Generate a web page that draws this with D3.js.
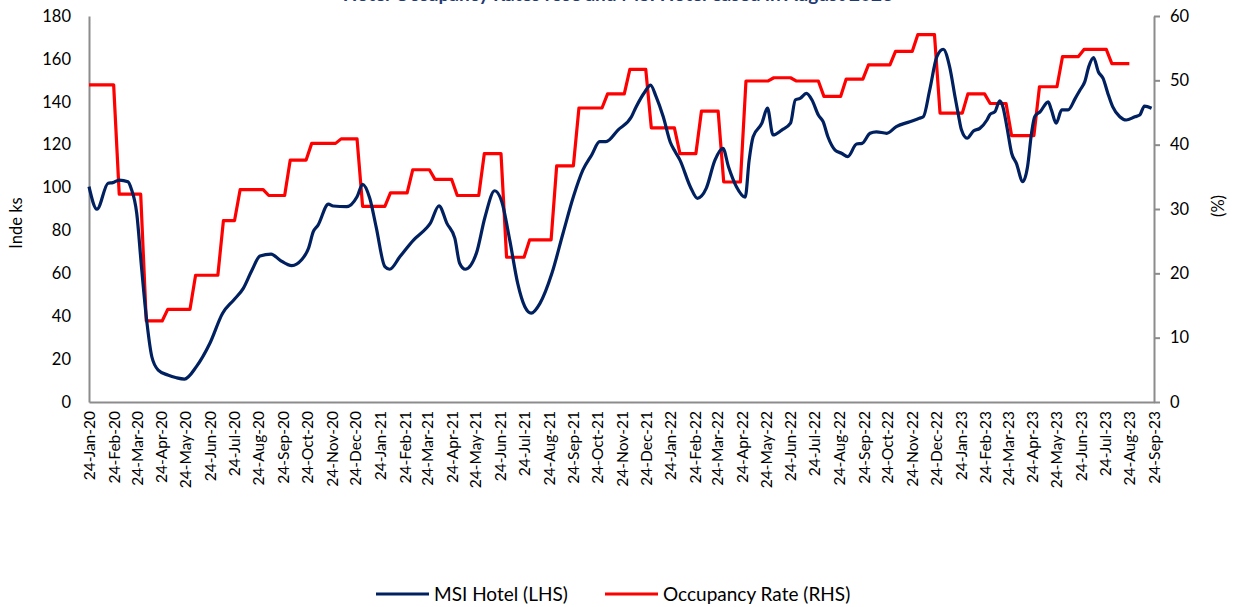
<!DOCTYPE html>
<html>
<head>
<meta charset="utf-8">
<script src="https://cdn.jsdelivr.net/npm/d3@7"></script>
<style>
  body { margin: 0; background: #fff; }
  svg { font-family: Lato, "Open Sans", sans-serif; }
</style>
</head>
<body>
<div class="canvas"></div>
<script>
// MSI Hotel index (LHS)
const hotelDates = ['2020-01-24','2020-02-03','2020-02-17','2020-02-23','2020-03-02','2020-03-13','2020-03-17','2020-03-24','2020-03-30','2020-04-05','2020-04-12','2020-04-20','2020-05-02','2020-05-13','2020-05-23','2020-06-07','2020-06-24','2020-07-10','2020-07-24','2020-08-05','2020-08-16','2020-08-26','2020-09-09','2020-09-20','2020-10-05','2020-10-17','2020-10-26','2020-11-01','2020-11-07','2020-11-20','2020-11-26','2020-12-13','2020-12-26','2021-01-02','2021-01-11','2021-01-19','2021-01-30','2021-02-05','2021-02-18','2021-03-07','2021-03-23','2021-03-28','2021-04-08','2021-04-18','2021-04-28','2021-05-04','2021-05-11','2021-05-25','2021-06-05','2021-06-17','2021-06-26','2021-07-06','2021-07-16','2021-07-25','2021-08-02','2021-08-13','2021-08-28','2021-09-11','2021-09-24','2021-10-06','2021-10-17','2021-10-27','2021-11-04','2021-11-19','2021-12-06','2021-12-12','2021-12-23','2021-12-30','2022-01-06','2022-01-15','2022-01-24','2022-01-30','2022-02-05','2022-02-18','2022-02-27','2022-03-10','2022-03-21','2022-03-31','2022-04-07','2022-04-17','2022-04-28','2022-05-03','2022-05-08','2022-05-19','2022-05-26','2022-06-02','2022-06-13','2022-06-24','2022-06-30','2022-07-06','2022-07-14','2022-07-21','2022-07-29','2022-08-04','2022-08-10','2022-08-19','2022-08-27','2022-09-04','2022-09-15','2022-09-22','2022-10-02','2022-10-10','2022-10-23','2022-11-04','2022-11-21','2022-12-03','2022-12-08','2022-12-16','2022-12-25','2023-01-02','2023-01-10','2023-01-17','2023-01-21','2023-01-25','2023-02-01','2023-02-09','2023-02-17','2023-02-26','2023-03-02','2023-03-08','2023-03-14','2023-03-18','2023-03-23','2023-03-29','2023-04-04','2023-04-12','2023-04-18','2023-04-23','2023-04-27','2023-05-04','2023-05-14','2023-05-18','2023-05-24','2023-05-31','2023-06-08','2023-06-17','2023-06-23','2023-06-29','2023-07-04','2023-07-10','2023-07-16','2023-07-22','2023-07-28','2023-08-03','2023-08-12','2023-08-20','2023-08-31','2023-09-06','2023-09-12','2023-09-21'];
const hotelIndex = [100.4,89.9,102,102.3,103.5,102.7,99.6,88,63,39.8,21.1,14.9,12.6,11.3,10.7,16.5,27.4,41.4,47.6,53,61.6,68.1,69,66.2,63.6,66.2,71.7,79.4,82.5,92.3,91.4,91.1,95.7,101.5,95,81.7,63.1,61.9,67.8,75.5,81,83.3,91.5,83.3,76.3,64.7,61.9,69.3,86.4,98.5,93.4,75.5,55.3,44.4,41.4,46,60,78.7,95.7,108.2,115.2,121.4,121.4,126.8,133,137.7,144.7,147.8,142.4,133,121,116.7,112.8,100.4,95,99.6,112.8,118.3,109.7,100.4,95.5,112.8,123.7,130,137,124.5,126.8,130,140.8,141.6,143.9,140.8,133.8,130.7,123.7,117.5,116,114.4,120.3,120.6,125.3,126,125.3,128.4,130.7,132.3,133,145.5,161,164.5,156.4,142,134,126.8,123,126.4,127.6,131.5,134.2,135.4,140.4,137.7,128.4,116,111.3,102.7,109.7,125.3,133,135.4,140,136.2,130,136.2,136.2,141.6,145.5,149.4,156.4,160.6,154,150.9,143.9,137.7,133,131.5,133,133.8,138,137];

// Occupancy rate (RHS, %): monthly levels and the week each level starts
const occStart = ['2020-01-24','2020-03-02','2020-04-05','2020-05-02','2020-06-06','2020-07-11','2020-08-01','2020-09-06','2020-10-03','2020-10-30','2020-12-06','2021-01-02','2021-02-06','2021-03-06','2021-04-03','2021-05-01','2021-06-04','2021-07-02','2021-07-31','2021-09-03','2021-10-01','2021-11-06','2021-12-04','2021-12-31','2022-02-05','2022-03-04','2022-04-01','2022-04-29','2022-06-03','2022-07-01','2022-08-05','2022-09-02','2022-09-30','2022-11-03','2022-12-01','2022-12-29','2023-02-02','2023-03-02','2023-03-29','2023-05-03','2023-06-01','2023-06-28','2023-08-02'];
const occRate = [49.3,32.3,12.6,14.4,19.7,28.2,33.0,32.1,37.6,40.2,40.9,30.4,32.5,36.1,34.6,32.1,38.6,22.5,25.2,36.7,45.7,47.9,51.7,42.6,38.6,45.2,34.2,49.9,50.4,49.9,47.5,50.2,52.4,54.5,57.1,44.9,47.9,46.4,41.4,49.0,53.7,54.8,52.6];
const occEnd = '2023-08-24';

// axis ticks
const leftTicks = [0, 20, 40, 60, 80, 100, 120, 140, 160, 180];
const rightTicks = [0, 10, 20, 30, 40, 50, 60];
const seriesNames = ['MSI Hotel (LHS)', 'Occupancy Rate (RHS)'];
const titleText = 'Hotel Occupancy Rates rose and MSI Hotel eased in August 2023';

const width = 1237, height = 607;
const margin = {top: 16, right: 83, bottom: 205, left: 89};
const graphWidth = width - margin.left - margin.right;
const graphHeight = height - margin.top - margin.bottom;

const parse = d3.timeParse('%Y-%m-%d');
const DAY = 864e5;

const svg = d3.select('.canvas')
  .append('svg')
  .attr('width', width)
  .attr('height', height);

// title, cut off at the top edge as in the source
svg.append('text')
  .attr('x', 618)
  .attr('y', 1)
  .attr('text-anchor', 'middle')
  .attr('font-size', '19px')
  .attr('font-weight', 'bold')
  .attr('fill', '#1F3A73')
  .text(titleText);

const graph = svg.append('g')
  .attr('transform', `translate(${margin.left},${margin.top})`);

const x = d3.scaleTime()
  .domain([parse('2020-01-24'), parse('2023-09-24')])
  .range([0, graphWidth]);
const yL = d3.scaleLinear().domain([0, 180]).range([graphHeight, 0]);
const yR = d3.scaleLinear().domain([0, 60]).range([graphHeight, 0]);

// monthly ticks on the 24th
const monthTicks = d3.range(0, 45).map(i => new Date(2020, i, 24));

const axisColor = '#8c8c8c';

// x axis
const xAxisGroup = graph.append('g')
  .attr('transform', `translate(0, ${graphHeight})`)
  .call(d3.axisBottom(x).tickValues(monthTicks).tickSize(0).tickFormat(d3.timeFormat('%d-%b-%y')));
xAxisGroup.select('.domain').attr('stroke', axisColor).attr('stroke-width', 2);
xAxisGroup.selectAll('text')
  .attr('transform', 'rotate(-90)')
  .attr('text-anchor', 'end')
  .attr('x', -9)
  .attr('y', 0)
  .attr('dy', '0.35em')
  .attr('font-size', '15.5px')
  .attr('font-family', 'Lato, sans-serif')
  .attr('fill', '#000');

// left axis
const yAxisGroup = graph.append('g')
  .call(d3.axisLeft(yL).tickValues(leftTicks).tickSize(0).tickPadding(18));
yAxisGroup.select('.domain').attr('stroke', axisColor).attr('stroke-width', 2);
yAxisGroup.selectAll('text')
  .attr('font-size', '16.5px')
  .attr('font-family', 'Lato, sans-serif')
  .attr('fill', '#000');

// right axis
const yAxisRight = graph.append('g')
  .attr('transform', `translate(${graphWidth},0)`)
  .call(d3.axisRight(yR).tickValues(rightTicks).tickSize(6).tickSizeOuter(0).tickPadding(10));
yAxisRight.select('.domain').attr('stroke', axisColor).attr('stroke-width', 2);
yAxisRight.selectAll('line').attr('stroke', axisColor).attr('stroke-width', 2);
yAxisRight.selectAll('text')
  .attr('font-size', '16.5px')
  .attr('font-family', 'Lato, sans-serif')
  .attr('fill', '#000');

// axis titles
svg.append('text')
  .attr('transform', `translate(22, ${margin.top + graphHeight / 2 + 14}) rotate(-90)`)
  .attr('text-anchor', 'middle')
  .attr('font-size', '16.5px')
  .text('Inde ks');
svg.append('text')
  .attr('transform', `translate(1224, ${margin.top + graphHeight / 2 - 3}) rotate(-90)`)
  .attr('text-anchor', 'middle')
  .attr('font-size', '16.5px')
  .text('(%)');

// occupancy step line: each level held until a week before the next one starts
const occData = [];
occRate.forEach((v, i) => {
  const start = parse(occStart[i]);
  const end = i < occRate.length - 1 ? new Date(+parse(occStart[i + 1]) - 7 * DAY) : parse(occEnd);
  occData.push({date: start, value: v});
  occData.push({date: end, value: v});
});

const hotelData = hotelDates.map((d, i) => ({date: parse(d), value: hotelIndex[i]}));

graph.append('path')
  .datum(occData)
  .attr('fill', 'none')
  .attr('stroke', '#FF0000')
  .attr('stroke-width', 3.2)
  .attr('stroke-linejoin', 'round')
  .attr('d', d3.line().x(d => x(d.date)).y(d => yR(d.value)));

graph.append('path')
  .datum(hotelData)
  .attr('fill', 'none')
  .attr('stroke', '#002060')
  .attr('stroke-width', 3.2)
  .attr('stroke-linejoin', 'round')
  .attr('d', d3.line().curve(d3.curveMonotoneX).x(d => x(d.date)).y(d => yL(d.value)));

// legend
const legend = svg.append('g').attr('transform', 'translate(376, 594)');
const legendItems = [
  {name: seriesNames[0], color: '#002060', x: 0},
  {name: seriesNames[1], color: '#FF0000', x: 229}
];
legendItems.forEach(item => {
  legend.append('line')
    .attr('x1', item.x).attr('x2', item.x + 53)
    .attr('y1', 0).attr('y2', 0)
    .attr('stroke', item.color)
    .attr('stroke-width', 3.2);
  legend.append('text')
    .attr('x', item.x + 58)
    .attr('y', 0)
    .attr('dy', '0.35em')
    .attr('font-size', '19px')
    .text(item.name);
});
</script>
</body>
</html>
